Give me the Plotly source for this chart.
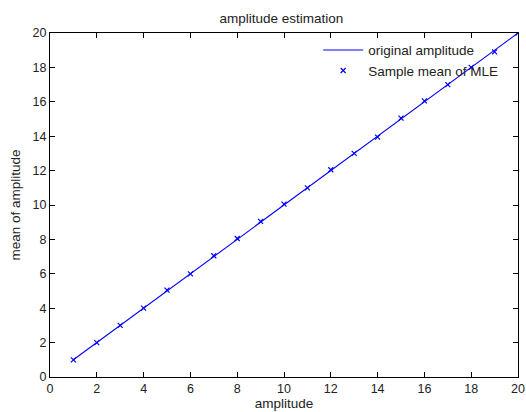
import plotly.graph_objects as go

amplitude = list(range(1, 21))
original_amplitude = list(range(1, 21))
mle_mean = [1.0, 2.0, 3.0, 4.0, 5.05, 6.0, 7.05, 8.05, 9.05, 10.05,
            11.0, 12.05, 13.0, 13.95, 15.05, 16.05, 17.0, 18.0, 18.9, 20.0]

ticks = list(range(0, 21, 2))

fig = go.Figure()
fig.add_trace(go.Scatter(x=amplitude, y=original_amplitude, mode='lines',
                         name='original amplitude',
                         line=dict(color='#0000ff', width=1.1)))
fig.add_trace(go.Scatter(x=amplitude, y=mle_mean, mode='markers',
                         name='Sample mean of MLE',
                         marker=dict(symbol='x-thin', size=5, color='#0000ff',
                                     line=dict(color='#0000ff', width=1.2))))

axis_style = dict(range=[0, 20], tickvals=ticks, ticks='inside', ticklen=5,
                  tickcolor='black', showline=True, linecolor='black',
                  linewidth=1, mirror='ticks', showgrid=False, zeroline=False,
                  automargin=False, tickfont=dict(size=12.5, color='#222'))

fig.update_layout(
    width=526, height=412,
    margin=dict(l=50, r=8, t=33, b=35, autoexpand=False),
    paper_bgcolor='white', plot_bgcolor='white',
    font=dict(family='Liberation Sans, Arial, sans-serif', size=13.5, color='#222'),
    title=dict(text='amplitude estimation', x=0.535, xanchor='center',
               y=1 - 18 / 412, yanchor='middle', font=dict(size=13.5)),
    xaxis=dict(axis_style, title=dict(text='amplitude', standoff=2, font=dict(size=13.5))),
    yaxis=dict(axis_style, title=dict(text='mean of amplitude', standoff=8, font=dict(size=13.5))),
    legend=dict(x=0.573, y=0.995, xanchor='left', yanchor='top',
                bgcolor='rgba(0,0,0,0)', borderwidth=0,
                font=dict(size=13.5), itemwidth=40, tracegroupgap=0),
    showlegend=True,
)

fig.write_html("out.html", config={'displayModeBar': False},
               post_script="document.body.style.margin='0';")
